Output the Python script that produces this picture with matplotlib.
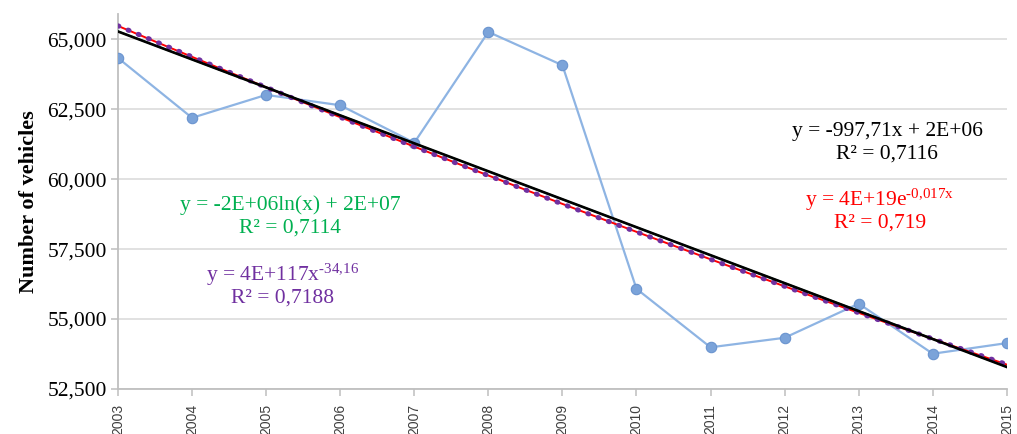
import numpy as np
import matplotlib
matplotlib.use("Agg")
import matplotlib.pyplot as plt

years = [2003, 2004, 2005, 2006, 2007, 2008, 2009, 2010, 2011, 2012, 2013, 2014, 2015]
vehicles = [64330, 62190, 63010, 62640, 61300, 65260, 64070, 56080, 53990, 54330, 55550, 53760, 54140]
yticks = [52500, 55000, 57500, 60000, 62500, 65000]
ytick_labels = ["52,500", "55,000", "57,500", "60,000", "62,500", "65,000"]

eq_lin = ["y = -997,71x + 2E+06", "R² = 0,7116"]
eq_exp = ["y = 4E+19e$^{\\text{-0,017x}}$", "R² = 0,719"]
eq_log = ["y = -2E+06ln(x) + 2E+07", "R² = 0,7114"]
eq_pow = ["y = 4E+117x$^{\\text{-34,16}}$", "R² = 0,7188"]

plt.rcParams['font.family'] = ['Liberation Serif', 'DejaVu Serif']
plt.rcParams['mathtext.fontset'] = 'custom'
plt.rcParams['mathtext.rm'] = 'Liberation Serif'
plt.rcParams['mathtext.it'] = 'Liberation Serif'

x = np.array(years, dtype=float)
y = np.array(vehicles, dtype=float)
xf = np.linspace(x[0], x[-1], 400)

# trendlines fitted from the data
p_lin = np.polyfit(x, y, 1)
y_lin = np.polyval(p_lin, xf)
p_exp = np.polyfit(x, np.log(y), 1)
y_exp = np.exp(np.polyval(p_exp, xf))
p_log = np.polyfit(np.log(x), y, 1)
y_log = np.polyval(p_log, np.log(xf))
p_pow = np.polyfit(np.log(x), np.log(y), 1)
y_pow = np.exp(np.polyval(p_pow, np.log(xf)))

fig = plt.figure(figsize=(10.17, 4.34), dpi=100)
ax = fig.add_axes([0.116, 0.1037, 0.874, 0.864])

ax.plot(x, y, color='#8EB4E3', lw=1.6, marker='o', markersize=7.5,
        markerfacecolor='#7BA3D9', markeredgecolor='#6A94CF', markeredgewidth=0.8, zorder=3)
ax.plot(xf, y_log, color='#00B050', lw=1.3, zorder=4)
ax.plot(xf, y_exp, color='#FF0000', lw=1.4, zorder=5)
ax.plot(xf, y_pow, color='#7030A0', lw=3.6, linestyle=(0, (0.2, 2.0)),
        dash_capstyle='round', zorder=6)
ax.plot(xf, y_lin, color='black', lw=1.9, zorder=7)

ax.set_xlim(2003, 2015)
ax.set_ylim(52500, 65900)
ax.set_yticks(yticks)
ax.set_yticklabels(ytick_labels, fontsize=15.5, color='#000000')
ax.set_xticks(years)
ax.set_xticklabels([str(v) for v in years], rotation=90, fontsize=10,
                   family='Liberation Sans', color='#404040')
ax.grid(axis='y', color='#D9D9D9', lw=1.1)
ax.set_axisbelow(True)
for s in ['top', 'right']:
    ax.spines[s].set_visible(False)
for s in ['left', 'bottom']:
    ax.spines[s].set_color('#BFBFBF')
    ax.spines[s].set_linewidth(1.3)
ax.tick_params(axis='both', color='#BFBFBF', length=5, width=1.1)
ax.tick_params(axis='y', pad=3)
ax.tick_params(axis='x', pad=6)

ax.set_ylabel("Number of vehicles", fontsize=16, fontweight='bold', labelpad=6)

def put(lines, xp, yp, color):
    for i, t in enumerate(lines):
        fig.text(xp / 1017, 1 - (yp + i * 23.5) / 434, t, color=color, fontsize=15.5,
                 ha='center', va='center')

put(eq_log, 290, 205, '#00B050')
put(eq_pow, 283, 275, '#7030A0')
put(eq_lin, 887, 131, '#000000')
put(eq_exp, 880, 200, '#FF0000')

fig.savefig("out.png", dpi=100)
